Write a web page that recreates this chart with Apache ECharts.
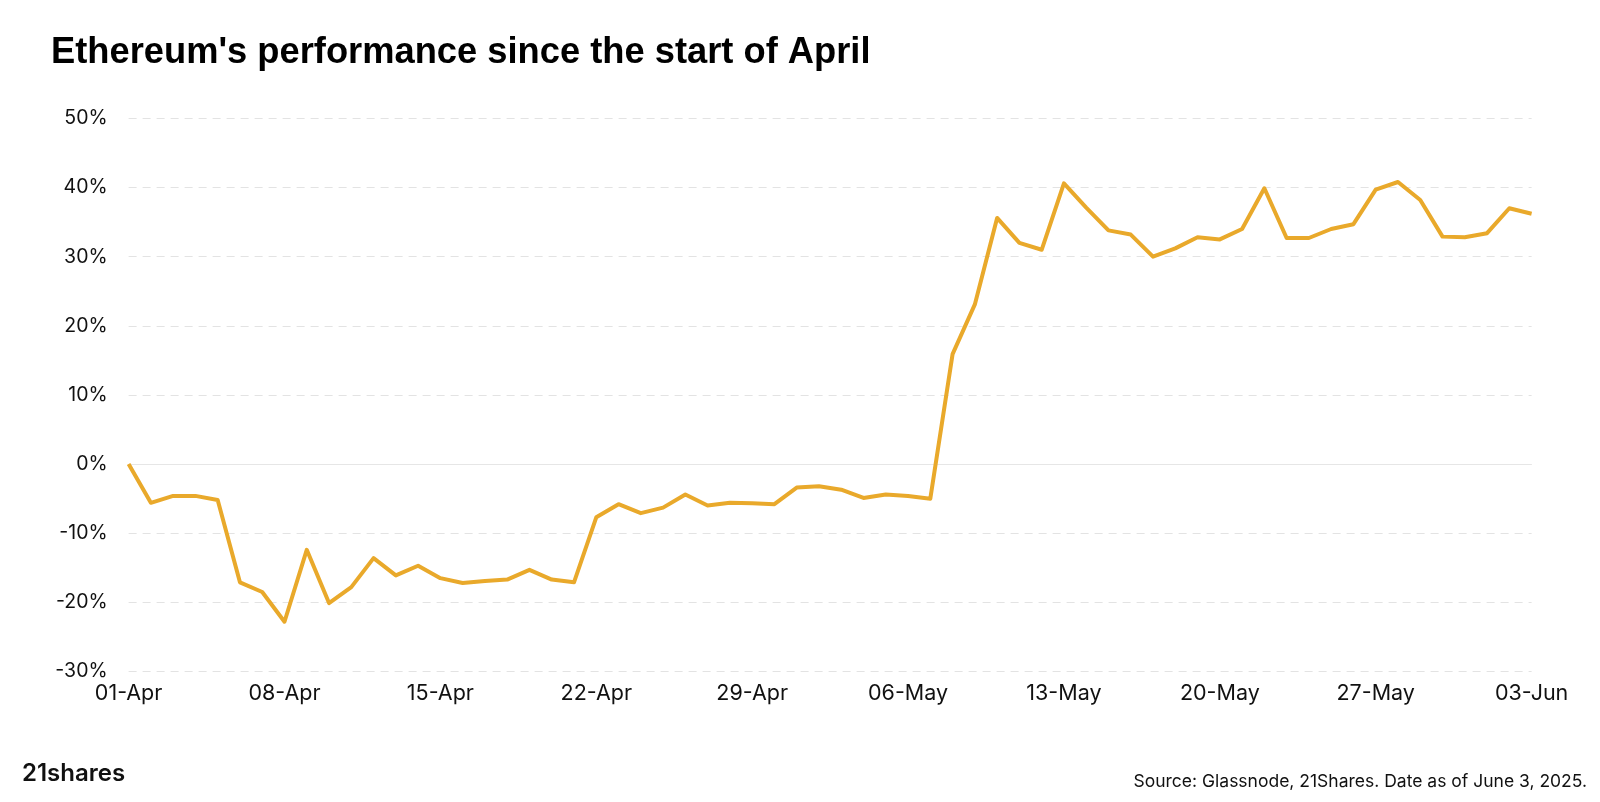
<!DOCTYPE html>
<html><head><meta charset="utf-8">
<script src="https://cdn.jsdelivr.net/npm/echarts@6/dist/echarts.min.js"></script>
<style>html,body{margin:0;padding:0;background:#fff}#c{width:1600px;height:802px}</style>
</head><body><div id="c"></div>
<script>
const dates = [
 '01-Apr','02-Apr','03-Apr','04-Apr','05-Apr','06-Apr','07-Apr','08-Apr','09-Apr','10-Apr',
 '11-Apr','12-Apr','13-Apr','14-Apr','15-Apr','16-Apr','17-Apr','18-Apr','19-Apr','20-Apr',
 '21-Apr','22-Apr','23-Apr','24-Apr','25-Apr','26-Apr','27-Apr','28-Apr','29-Apr','30-Apr',
 '01-May','02-May','03-May','04-May','05-May','06-May','07-May','08-May','09-May','10-May',
 '11-May','12-May','13-May','14-May','15-May','16-May','17-May','18-May','19-May','20-May',
 '21-May','22-May','23-May','24-May','25-May','26-May','27-May','28-May','29-May','30-May',
 '31-May','01-Jun','02-Jun','03-Jun'];
const performance = [
 0, -5.6, -4.6, -4.6, -5.2, -17.1, -18.5, -22.8, -12.4, -20.1,
 -17.8, -13.6, -16.1, -14.7, -16.5, -17.2, -16.9, -16.7, -15.3, -16.7,
 -17.1, -7.7, -5.8, -7.1, -6.3, -4.4, -6.0, -5.6, -5.65, -5.8,
 -3.4, -3.2, -3.7, -4.9, -4.4, -4.6, -5.0, 15.9, 23.1, 35.6,
 32.0, 31.0, 40.6, 37.1, 33.8, 33.2, 30.0, 31.2, 32.8, 32.5,
 34.0, 39.9, 32.7, 32.7, 34.0, 34.7, 39.7, 40.8, 38.2, 32.9,
 32.8, 33.4, 37.0, 36.2];
const yMin = -30, yMax = 50, yStep = 10;
const titleText = "Ethereum's performance since the start of April";
const sourceText = "Source: Glassnode, 21Shares. Date as of June 3, 2025.";
const logoText = "21shares";

const chart = echarts.init(document.getElementById('c'));
chart.setOption({
  animation: false,
  backgroundColor: '#ffffff',
  textStyle: { fontFamily: 'Inter, "Noto Sans", sans-serif' },
  title: {
    text: titleText, left: 46, top: 30,
    textStyle: { fontFamily: '"Liberation Sans", Arial, sans-serif', fontWeight: 700, fontSize: 36.3, color: '#000' }
  },
  graphic: [
    { type: 'text', left: 22, top: 762, style: { text: logoText, font: '600 24px Inter', fill: '#111' } },
    { type: 'text', right: 13, top: 773, style: { text: sourceText, font: '17.5px Inter', fill: '#111' } }
  ],
  grid: { left: 128.6, right: 68.4, top: 118.4, bottom: 130.5 },
  xAxis: {
    type: 'category', data: dates, boundaryGap: false,
    axisLine: { show: false }, axisTick: { show: false },
    axisLabel: { interval: 6, color: '#111', fontSize: 21.5, margin: 11, fontFamily: 'Inter' },
    splitLine: { show: false }
  },
  yAxis: {
    type: 'value', min: yMin, max: yMax, interval: yStep,
    axisLine: { show: false }, axisTick: { show: false },
    axisLabel: { formatter: v => v + '%', color: '#111', fontSize: 19.5, margin: 21, fontFamily: 'Inter' },
    splitLine: { show: true, lineStyle: { type: [8, 6], color: '#e3e3e3', width: 1 } }
  },
  series: [{
    type: 'line', data: performance, symbol: 'none',
    lineStyle: { color: '#E9A92B', width: 4, join: 'round' },
    markLine: {
      silent: true, symbol: 'none', label: { show: false }, z: 1,
      lineStyle: { type: 'solid', color: '#e6e6e6', width: 1.2 },
      data: [{ yAxis: 0 }]
    }
  }]
});
</script></body></html>
